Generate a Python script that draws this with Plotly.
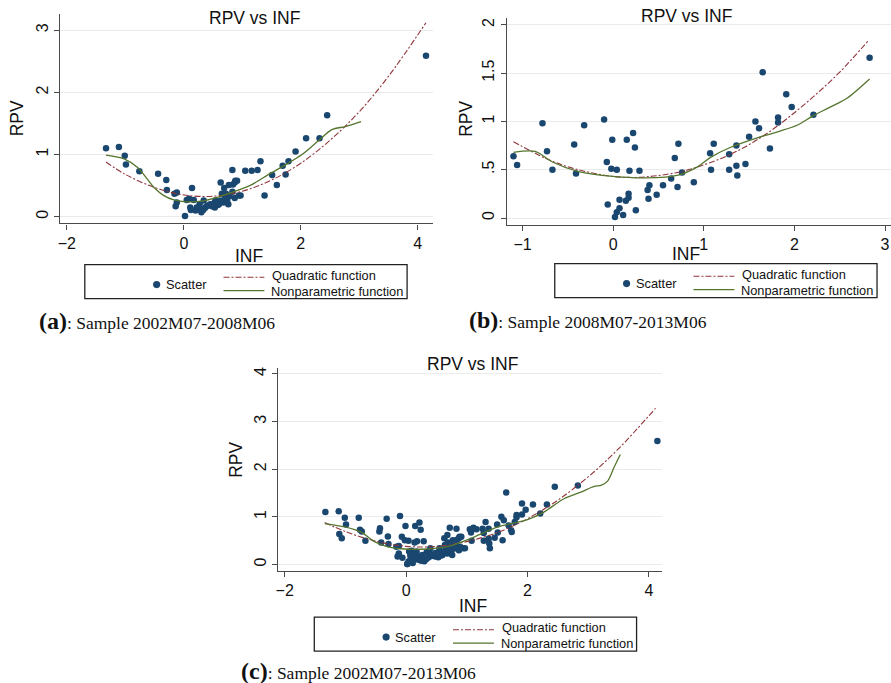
import plotly.graph_objects as go

W, H = 891, 683

# ---------------- Panel (a): Sample 2002M07-2008M06 ----------------
a_inf = [-1.33, -1.11, -1.01, -0.99, -0.76, -0.44, -0.30, -0.29, -0.16, -0.12,
         -0.14, -0.12, 0.02, 0.09, 0.11, 0.14, 0.12, 0.17, 0.20, 0.22,
         0.26, 0.30, 0.33, 0.34, 0.38, 0.41, 0.45, 0.53, 0.54, 0.57,
         0.60, 0.63, 0.63, 0.65, 0.68, 0.69, 0.71, 0.72, 0.74, 0.76,
         0.77, 0.83, 0.83, 0.84, 0.87, 0.88, 0.87, 0.91, 0.94, 0.97,
         1.05, 1.16, 1.26, 1.31, 1.38, 1.51, 1.59, 1.69, 1.74, 1.79,
         1.91, 2.09, 2.32, 2.45, 4.14, 0.48, 0.58, 0.52, 0.05, 0.27,
         0.78, 0.36]
a_rpv = [1.10, 1.12, 0.98, 0.84, 0.73, 0.69, 0.59, 0.43, 0.37, 0.39,
         0.17, 0.23, 0.01, 0.29, 0.15, 0.46, 0.11, 0.27, 0.10, 0.15,
         0.12, 0.07, 0.11, 0.26, 0.16, 0.18, 0.20, 0.15, 0.26, 0.23,
         0.20, 0.55, 0.26, 0.37, 0.23, 0.46, 0.31, 0.37, 0.26, 0.20,
         0.51, 0.75, 0.40, 0.52, 0.55, 0.58, 0.30, 0.58, 0.34, 0.34,
         0.74, 0.74, 0.75, 0.89, 0.34, 0.67, 0.51, 0.82, 0.68, 0.89,
         1.05, 1.26, 1.26, 1.63, 2.59, 0.17, 0.19, 0.22, 0.27, 0.20,
         0.33, 0.14]
a_quad_x = [-1.33, -1.0, -0.5, 0.0, 0.5, 1.0, 1.5, 2.0, 2.5, 3.0, 3.5, 4.14]
a_quad_y = [0.88, 0.68, 0.47, 0.35, 0.33, 0.41, 0.59, 0.86, 1.23, 1.69, 2.26, 3.12]
a_np_x = [-1.33, -1.02, -0.79, -0.62, -0.51, -0.34, -0.17, 0.05, 0.30, 0.60,
          0.88, 1.17, 1.45, 1.73, 2.02, 2.30, 2.53, 2.76, 3.03]
a_np_y = [0.99, 0.93, 0.79, 0.60, 0.47, 0.34, 0.27, 0.24, 0.25, 0.32,
          0.41, 0.52, 0.68, 0.83, 1.00, 1.22, 1.40, 1.45, 1.53]

# ---------------- Panel (b): Sample 2008M07-2013M06 ----------------
b_inf = [-1.10, -1.06, -0.78, -0.73, -0.67, -0.43, -0.41, -0.32, -0.10, -0.07,
         -0.06, -0.02, -0.01, 0.04, 0.02, 0.04, 0.07, 0.07, 0.11, 0.14,
         0.15, 0.17, 0.17, 0.18, 0.22, 0.24, 0.25, 0.29, 0.38, 0.40,
         0.39, 0.48, 0.55, 0.64, 0.68, 0.71, 0.72, 0.76, 0.89, 1.07,
         1.08, 1.11, 1.28, 1.28, 1.36, 1.36, 1.37, 1.46, 1.50, 1.57,
         1.61, 1.65, 1.73, 1.82, 1.82, 1.91, 1.97, 2.21, 2.83]
b_rpv = [0.64, 0.55, 0.98, 0.69, 0.50, 0.76, 0.46, 0.96, 1.02, 0.58,
         0.14, 0.51, 0.81, 0.50, 0.01, 0.06, 0.19, 0.10, 0.03, 0.18,
         0.81, 0.21, 0.25, 0.49, 0.88, 0.73, 0.08, 0.49, 0.29, 0.34,
         0.20, 0.24, 0.34, 0.41, 0.62, 0.32, 0.77, 0.47, 0.37, 0.67,
         0.50, 0.77, 0.66, 0.50, 0.75, 0.54, 0.44, 0.56, 0.84, 1.00,
         0.93, 1.51, 0.72, 1.04, 0.99, 1.28, 1.15, 1.07, 1.66]
b_quad_x = [-1.10, -0.75, -0.50, -0.25, 0.0, 0.25, 0.50, 0.75, 1.0, 1.25,
            1.50, 1.75, 2.0, 2.25, 2.50, 2.82]
b_quad_y = [0.79, 0.62, 0.53, 0.47, 0.43, 0.42, 0.44, 0.48, 0.55, 0.64,
            0.76, 0.91, 1.09, 1.29, 1.51, 1.84]
b_np_x = [-1.10, -0.86, -0.67, -0.38, 0.0, 0.36, 0.72, 0.93, 1.07, 1.29,
          1.59, 1.84, 2.03, 2.21, 2.40, 2.58, 2.83]
b_np_y = [0.68, 0.69, 0.58, 0.48, 0.43, 0.415, 0.445, 0.53, 0.625, 0.73,
          0.83, 0.90, 0.96, 1.06, 1.15, 1.24, 1.44]

# ---------------- Panel (c): Sample 2002M07-2013M06 ----------------
c_inf = a_inf + b_inf
c_rpv = a_rpv + b_rpv
c_quad_x = [-1.34, -1.0, -0.5, 0.0, 0.5, 1.0, 1.5, 2.0, 2.5, 3.0, 3.5, 4.11]
c_quad_y = [0.88, 0.69, 0.49, 0.38, 0.38, 0.48, 0.67, 0.96, 1.35, 1.84, 2.43, 3.28]
c_np_x = [-1.34, -1.01, -0.74, -0.52, -0.30, -0.08, 0.25, 0.69, 1.07, 1.51,
          2.00, 2.27, 2.60, 2.88, 3.10, 3.21, 3.32, 3.43, 3.53]
c_np_y = [0.86, 0.79, 0.68, 0.48, 0.37, 0.33, 0.32, 0.38, 0.55, 0.79,
          0.94, 1.10, 1.38, 1.52, 1.64, 1.66, 1.75, 2.05, 2.31]

titles = ["RPV vs INF", "RPV vs INF", "RPV vs INF"]
captions = [("(a)", ": Sample 2002M07-2008M06"),
            ("(b)", ": Sample 2008M07-2013M06"),
            ("(c)", ": Sample 2002M07-2013M06")]
legend_labels = ["Scatter", "Quadratic function", "Nonparametric function"]

NAVY = "#1a476f"
MAROON = "#90353b"
GREEN = "#55752f"
AXC = "#4a4a4a"
GRID = "#ebebeb"
SANS = "Liberation Sans, Arial, sans-serif"
SERIF = "Liberation Serif, Times New Roman, serif"


def px(x):
    return x / W


def py(y):
    return 1 - y / H


fig = go.Figure()

panels = [
    dict(inf=a_inf, rpv=a_rpv, qx=a_quad_x, qy=a_quad_y, nx=a_np_x, ny=a_np_y),
    dict(inf=b_inf, rpv=b_rpv, qx=b_quad_x, qy=b_quad_y, nx=b_np_x, ny=b_np_y),
    dict(inf=c_inf, rpv=c_rpv, qx=c_quad_x, qy=c_quad_y, nx=c_np_x, ny=c_np_y),
]
for i, p in enumerate(panels):
    xa = "x" if i == 0 else f"x{i+1}"
    ya = "y" if i == 0 else f"y{i+1}"
    fig.add_trace(go.Scatter(x=p["inf"], y=p["rpv"], mode="markers", xaxis=xa, yaxis=ya,
                             marker=dict(color=NAVY, size=6.5), name=legend_labels[0]))
    fig.add_trace(go.Scatter(x=p["qx"], y=p["qy"], mode="lines", xaxis=xa, yaxis=ya,
                             line=dict(color=MAROON, width=1.1, dash="6px,2px,2px,2px", shape="spline"),
                             name=legend_labels[1]))
    fig.add_trace(go.Scatter(x=p["nx"], y=p["ny"], mode="lines", xaxis=xa, yaxis=ya,
                             line=dict(color=GREEN, width=1.3, shape="spline", smoothing=0.8),
                             name=legend_labels[2]))

# plot-area boxes in pixels: (left, top, right, bottom)
boxes = [(58.3, 13.0, 431.7, 222.7), (506.0, 16.7, 891.0, 224.0), (276.7, 367.3, 661.7, 570.7)]
xranges = [[-2.114, 4.255], [-1.173, 3.066], [-2.109, 4.22]]
yranges = [[-0.107, 3.26], [-0.069, 2.074], [-0.134, 4.13]]
xticks = [[-2, 0, 2, 4], [-1, 0, 1, 2, 3], [-2, 0, 2, 4]]
yticks = [[0, 1, 2, 3], [0, 0.5, 1, 1.5, 2], [0, 1, 2, 3, 4]]
yticktext = [["0", "1", "2", "3"], ["0", ".5", "1", "1.5", "2"], ["0", "1", "2", "3", "4"]]

for i, (l, t, r, b) in enumerate(boxes):
    sfx = "" if i == 0 else str(i + 1)
    fig.layout["xaxis" + sfx] = dict(
        domain=[px(l), px(r)], anchor="y" + sfx, range=xranges[i], tickvals=xticks[i],
        showline=True, linecolor=AXC, linewidth=1.3, ticks="outside", ticklen=5,
        tickcolor=AXC, tickwidth=1.2, showgrid=False, zeroline=False,
        ticklabeloverflow="allow",
        tickfont=dict(size=16, color="#111", family=SANS))
    fig.layout["yaxis" + sfx] = dict(
        domain=[py(b), py(t)], anchor="x" + sfx, range=yranges[i], tickvals=yticks[i],
        ticktext=yticktext[i], tickangle=-90,
        showline=True, linecolor=AXC, linewidth=1.3, ticks="outside", ticklen=5,
        tickcolor=AXC, tickwidth=1.2, showgrid=True, gridcolor=GRID, gridwidth=1,
        zeroline=False, tickfont=dict(size=16, color="#111", family=SANS))

annotations = []
shapes = []

# titles, axis titles
title_pos = [(253, 17.5), (685.7, 15.5), (471.7, 364)]
inf_pos = [(247.3, 255.5), (685.7, 253), (471.7, 606)]
rpv_pos = [(15, 117.5), (465, 118), (235, 459)]
for i in range(3):
    annotations.append(dict(text=titles[i], x=px(title_pos[i][0]), y=py(title_pos[i][1]),
                            xref="paper", yref="paper", showarrow=False, xanchor="center",
                            yanchor="middle", font=dict(size=17.5, color="#111", family=SANS)))
    annotations.append(dict(text="INF", x=px(inf_pos[i][0]), y=py(inf_pos[i][1]),
                            xref="paper", yref="paper", showarrow=False, xanchor="center",
                            yanchor="middle", font=dict(size=17.5, color="#111", family=SANS)))
    annotations.append(dict(text="RPV", x=px(rpv_pos[i][0]), y=py(rpv_pos[i][1]), textangle=-90,
                            xref="paper", yref="paper", showarrow=False, xanchor="center",
                            yanchor="middle", font=dict(size=17.5, color="#111", family=SANS)))

# legend boxes (left, top) in pixels
leg_pos = [(83, 264), (554, 263), (313, 617)]
LW, LH = 323, 34
for (l, t) in leg_pos:
    shapes.append(dict(type="rect", xref="paper", yref="paper", x0=px(l), x1=px(l + LW),
                       y0=py(t + LH), y1=py(t), line=dict(color="#222", width=1.3),
                       fillcolor="white", layer="above"))
    cx, cy, rr = l + 72, t + 20, 3.6
    shapes.append(dict(type="circle", xref="paper", yref="paper", x0=px(cx - rr), x1=px(cx + rr),
                       y0=py(cy + rr), y1=py(cy - rr), line=dict(color=NAVY, width=0),
                       fillcolor=NAVY, layer="above"))
    shapes.append(dict(type="line", xref="paper", yref="paper", x0=px(l + 139), x1=px(l + 180),
                       y0=py(t + 12.7), y1=py(t + 12.7),
                       line=dict(color=MAROON, width=1.1, dash="6px,2px,2px,2px"), layer="above"))
    shapes.append(dict(type="line", xref="paper", yref="paper", x0=px(l + 139), x1=px(l + 180),
                       y0=py(t + 26), y1=py(t + 26), line=dict(color=GREEN, width=1.3), layer="above"))
    for txt, tx, ty in [(legend_labels[0], l + 79, t + 20), (legend_labels[1], l + 186, t + 10.5),
                        (legend_labels[2], l + 185, t + 26.5)]:
        annotations.append(dict(text=txt, x=px(tx), y=py(ty), xref="paper", yref="paper",
                                showarrow=False, xanchor="left", yanchor="middle",
                                font=dict(size=12.8, color="#111", family=SANS)))

# captions
cap_pos = [(35, 320), (466.5, 319), (238, 671)]
for (lab, rest), (cx, cy) in zip(captions, cap_pos):
    annotations.append(dict(
        text=f"<b><span style='font-size:24px'>{lab}</span></b>{rest}",
        x=px(cx), y=py(cy), xref="paper", yref="paper", showarrow=False,
        xanchor="left", yanchor="middle", font=dict(size=17.5, color="#111", family=SERIF)))

fig.update_layout(width=W, height=H, margin=dict(l=0, r=0, t=0, b=0),
                  paper_bgcolor="white", plot_bgcolor="white", showlegend=False,
                  annotations=annotations, shapes=shapes)

fig.write_html("out.html")
